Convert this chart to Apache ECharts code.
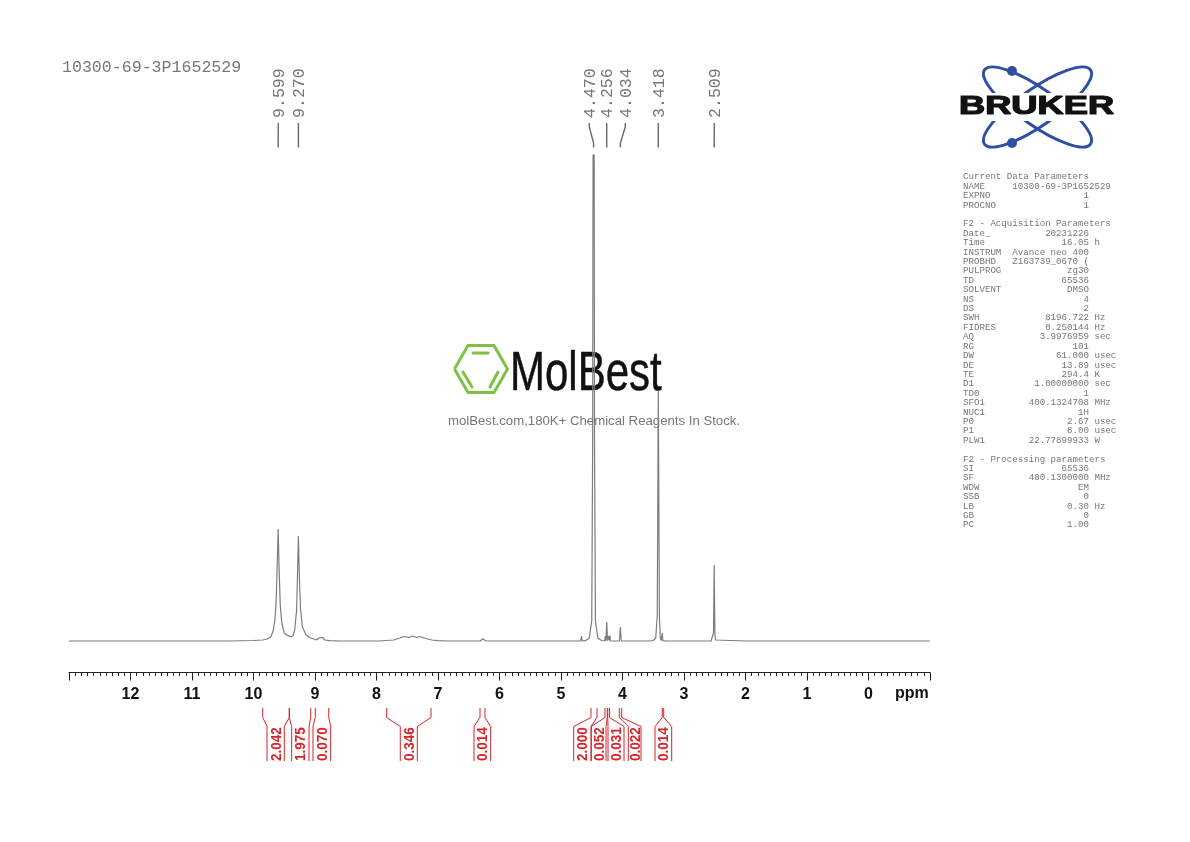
<!DOCTYPE html>
<html>
<head>
<meta charset="utf-8">
<title>10300-69-3P1652529</title>
<script src="https://cdn.jsdelivr.net/npm/echarts@6/dist/echarts.min.js"></script>
<style>
  html, body { margin: 0; padding: 0; background: #fff; }
  #chart { width: 1190px; height: 842px; }
</style>
</head>
<body>
<div id="chart"></div>
<script>
// spectrum, ppm goes high to low
const spectrumPpm = [
  13.0, 10.4, 10.0, 9.85, 9.78, 9.72, 9.68, 9.65, 9.63, 9.615, 9.599, 9.585, 9.565, 9.54, 9.5, 9.45, 9.4, 9.36,
  9.33, 9.3, 9.285, 9.27, 9.255, 9.235, 9.205, 9.15, 9.09, 9.02, 8.97, 8.935, 8.905, 8.875, 8.84, 8.76, 8.6,
  7.95, 7.85, 7.72, 7.62, 7.55, 7.47, 7.417, 7.35, 7.3, 7.2, 7.1, 7.0, 6.85,
  6.31, 6.295, 6.275, 6.25, 6.22,
  4.75, 4.68, 4.667, 4.655, 4.6, 4.54, 4.5, 4.485, 4.47, 4.455, 4.44, 4.4, 4.34,
  4.29, 4.28, 4.27, 4.256, 4.245, 4.232, 4.225, 4.215, 4.205, 4.195,
  4.05, 4.034, 4.02,
  3.56, 3.5, 3.46, 3.435, 3.418, 3.4, 3.385, 3.37, 3.36, 3.353, 3.345, 3.3,
  2.56, 2.53, 2.52, 2.509, 2.498, 2.488, 2.46, 2.0, 1.0, 0.0, -1.0
];
const spectrumIntensity = [
  0, 0, 0.5, 1, 2, 4, 10, 22, 42, 75, 112, 75, 36, 18, 8, 5.5, 4.4, 5,
  11, 30, 65, 105, 65, 32, 14, 6.5, 3.5, 2, 1.2, 3, 1.5, 3.5, 1, 0.3, 0,
  0, 0.5, 1, 3, 4.5, 3.5, 5, 3.5, 4.5, 2.5, 1, 0.3, 0,
  0, 0.8, 2.2, 0.8, 0,
  0, 0, 5, 0, 0.3, 3, 20, 200, 900, 200, 20, 3, 0.5,
  0, 5, 0.3, 19, 0.3, 0.3, 5, 0.5, 5.5, 0,
  0, 14, 0,
  0, 0.5, 3, 25, 250, 25, 3, 0.5, 0.5, 8, 0.3, 0,
  0, 1, 8, 76, 8, 1, 0, 0, 0, 0, 0
];

// picked peaks
const peakPpm = [9.599, 9.270, 4.470, 4.256, 4.034, 3.418, 2.509];

// integral regions
const integralFrom = [9.85, 9.418, 8.995, 7.834, 6.317, 4.512, 4.285, 4.24, 4.052, 3.353];
const integralTo = [9.418, 9.07, 8.777, 7.114, 6.236, 4.415, 4.247, 4.211, 4.013, 3.33];
const integralValues = ['2.042', '1.975', '0.070', '0.346', '0.014', '2.000', '0.052', '0.031', '0.022', '0.014'];

const axisMin = -1;
const axisMax = 13;
const tickLabels = ['12', '11', '10', '9', '8', '7', '6', '5', '4', '3', '2', '1', '0'];

// layout only, pixels
const peakLaneX = [278.3, 298.4, 589.3, 606.7, 625.3, 658.3, 714.3];
const integralLaneLeft = [267, 291.7, 313, 400.3, 474, 573.7, 591.3, 608, 628.3, 655];
const integralLaneRight = [284.3, 309, 330.7, 417.3, 490.7, 591, 606, 624, 641, 671.7];

// acquisition table, [key, value, unit]
const paramRows = [
  ['Current Data Parameters'],
  ['NAME     10300-69-3P1652529'],
  ['EXPNO', '1'],
  ['PROCNO', '1'],
  [''],
  ['F2 - Acquisition Parameters'],
  ['Date_', '20231226'],
  ['Time', '16.05', 'h'],
  ['INSTRUM', 'Avance neo 400'],
  ['PROBHD', 'Z163739_0670 ('],
  ['PULPROG', 'zg30'],
  ['TD', '65536'],
  ['SOLVENT', 'DMSO'],
  ['NS', '4'],
  ['DS', '2'],
  ['SWH', '8196.722', 'Hz'],
  ['FIDRES', '0.250144', 'Hz'],
  ['AQ', '3.9976959', 'sec'],
  ['RG', '101'],
  ['DW', '61.000', 'usec'],
  ['DE', '13.89', 'usec'],
  ['TE', '294.4', 'K'],
  ['D1', '1.00000000', 'sec'],
  ['TD0', '1'],
  ['SFO1', '400.1324708', 'MHz'],
  ['NUC1', '1H'],
  ['P0', '2.67', 'usec'],
  ['P1', '8.00', 'usec'],
  ['PLW1', '22.77899933', 'W'],
  [''],
  ['F2 - Processing parameters'],
  ['SI', '65536'],
  ['SF', '400.1300000', 'MHz'],
  ['WDW', 'EM'],
  ['SSB', '0'],
  ['LB', '0.30', 'Hz'],
  ['GB', '0'],
  ['PC', '1.00']
];

const MONO = '"Liberation Mono", monospace';
const SANS = '"Liberation Sans", Arial, sans-serif';
const RED = '#d8232a';
const BLUE = '#2e4fa3';
const GREEN = '#7dc243';

function paramLine(row) {
  if (row.length === 1) return row[0];
  let line = row[0] + row[1].padStart(23 - row[0].length);
  if (row[2]) line += ' ' + row[2];
  return line;
}

const chart = echarts.init(document.getElementById('chart'), null, { renderer: 'canvas' });

// peak labels with their little connector lines
function renderPeak(params, api) {
  const i = params.dataIndex;
  const x = api.coord([api.value(0), 0])[0];
  const lane = peakLaneX[i];
  return {
    type: 'group',
    children: [
      {
        type: 'polyline',
        shape: { points: [[lane, 123], [lane, 127], [x, 143], [x, 147.5]] },
        style: { stroke: '#666', lineWidth: 1.4, fill: null }
      },
      {
        type: 'text',
        x: lane + 1,
        y: 118,
        rotation: Math.PI / 2,
        style: {
          text: api.value(0).toFixed(3),
          font: '16.6px ' + MONO,
          fill: '#777',
          align: 'left',
          verticalAlign: 'middle'
        }
      }
    ]
  };
}

// red integral brackets under the axis
function renderIntegral(params, api) {
  const i = params.dataIndex;
  const x0 = api.coord([api.value(0), 0])[0];
  const x1 = api.coord([api.value(1), 0])[0];
  const left = integralLaneLeft[i];
  const right = integralLaneRight[i];
  const bracket = (top, bottom) => ({
    type: 'polyline',
    shape: { points: [[top, 708], [top, 717.5], [bottom, 726.5], [bottom, 761]] },
    style: { stroke: RED, lineWidth: 1, fill: null }
  });
  return {
    type: 'group',
    children: [
      bracket(x0, left),
      bracket(x1, right),
      {
        type: 'text',
        x: (left + right) / 2 + 0.7,
        y: 761,
        rotation: Math.PI / 2,
        scaleY: 1.12,
        style: {
          text: integralValues[i],
          font: 'bold 13.5px ' + SANS,
          fill: RED,
          align: 'left',
          verticalAlign: 'middle'
        }
      }
    ]
  };
}

const graphics = [
  {
    type: 'text', x: 62, y: 68,
    style: { text: '10300-69-3P1652529', font: '16.6px ' + MONO, fill: '#777', align: 'left', verticalAlign: 'middle' }
  },
  // watermark
  {
    type: 'polyline',
    shape: { points: [[454.5, 369], [468, 345.5], [494, 345.5], [507.5, 369], [494, 392.5], [468, 392.5], [454.5, 369]] },
    style: { stroke: GREEN, lineWidth: 3, fill: null, lineJoin: 'round' }
  },
  { type: 'line', shape: { x1: 473, y1: 353, x2: 488, y2: 353 }, style: { stroke: GREEN, lineWidth: 3, lineCap: 'round' } },
  { type: 'line', shape: { x1: 463, y1: 372, x2: 472, y2: 387 }, style: { stroke: GREEN, lineWidth: 3, lineCap: 'round' } },
  { type: 'line', shape: { x1: 498, y1: 372, x2: 490, y2: 387 }, style: { stroke: GREEN, lineWidth: 3, lineCap: 'round' } },
  {
    type: 'text', x: 510, y: 374.5, scaleX: 0.75,
    style: { text: 'MolBest', font: '56px ' + SANS, fill: '#111', stroke: '#111', lineWidth: 0.5, align: 'left', verticalAlign: 'middle' }
  },
  {
    type: 'text', x: 594, y: 421.5,
    style: {
      text: 'molBest.com,180K+ Chemical Reagents In Stock.',
      font: '13.2px ' + SANS, fill: '#777', align: 'center', verticalAlign: 'middle'
    }
  },
  // Bruker logo
  {
    type: 'ellipse', x: 1037.5, y: 107, rotation: -35 * Math.PI / 180,
    shape: { cx: 0, cy: 0, rx: 64.7, ry: 18.3 },
    style: { stroke: BLUE, lineWidth: 3, fill: null }
  },
  {
    type: 'ellipse', x: 1037.5, y: 107, rotation: 35 * Math.PI / 180,
    shape: { cx: 0, cy: 0, rx: 64.7, ry: 18.3 },
    style: { stroke: BLUE, lineWidth: 3, fill: null }
  },
  { type: 'circle', shape: { cx: 1012, cy: 71, r: 5 }, style: { fill: BLUE } },
  { type: 'circle', shape: { cx: 1012, cy: 143, r: 5 }, style: { fill: BLUE } },
  { type: 'rect', shape: { x: 955, y: 93, width: 164, height: 28 }, style: { fill: '#fff' } },
  {
    type: 'text', x: 959, y: 107.5, scaleX: 1.45,
    style: {
      text: 'BRUKER', font: 'bold 25px ' + SANS, fill: '#111', stroke: '#111', lineWidth: 1.2,
      align: 'left', verticalAlign: 'middle'
    }
  },
  {
    type: 'text', x: 895, y: 693.5,
    style: { text: 'ppm', font: 'bold 16px ' + SANS, fill: '#111', align: 'left', verticalAlign: 'middle' }
  }
];

paramRows.forEach(function (row, i) {
  if (!row[0]) return;
  graphics.push({
    type: 'text', x: 963, y: 177 + i * 9.405,
    style: { text: paramLine(row), font: '9.13px ' + MONO, fill: '#777', align: 'left', verticalAlign: 'middle' }
  });
});

const option = {
  backgroundColor: '#fff',
  animation: false,
  grid: { left: 69, right: 260, top: 155, bottom: 169.5 },
  xAxis: {
    type: 'value',
    inverse: true,
    min: axisMin,
    max: axisMax,
    interval: 1,
    splitLine: { show: false },
    axisLine: { onZero: false, lineStyle: { color: '#222', width: 1 } },
    axisTick: { length: 8, lineStyle: { color: '#222', width: 1 } },
    minorTick: { show: true, splitNumber: 10, length: 3.5, lineStyle: { color: '#222', width: 1 } },
    axisLabel: {
      margin: 14,
      fontFamily: SANS,
      fontWeight: 'bold',
      fontSize: 16,
      color: '#111',
      showMinLabel: false,
      showMaxLabel: false,
      formatter: function (v) { return tickLabels.indexOf(String(v)) >= 0 ? String(v) : ''; }
    }
  },
  yAxis: { type: 'value', min: -31.5, max: 486, show: false, splitLine: { show: false } },
  series: [
    {
      type: 'line',
      data: spectrumPpm.map(function (p, i) { return [p, spectrumIntensity[i]]; }),
      showSymbol: false,
      clip: true,
      silent: true,
      lineStyle: { color: '#7c7c7c', width: 1.2 }
    },
    {
      type: 'custom',
      silent: true,
      data: peakPpm.map(function (p) { return [p]; }),
      encode: { x: 0 },
      renderItem: renderPeak
    },
    {
      type: 'custom',
      silent: true,
      data: integralFrom.map(function (p, i) { return [p, integralTo[i]]; }),
      encode: { x: [0, 1] },
      renderItem: renderIntegral
    }
  ],
  graphic: { elements: graphics }
};

chart.setOption(option);
</script>
</body>
</html>
